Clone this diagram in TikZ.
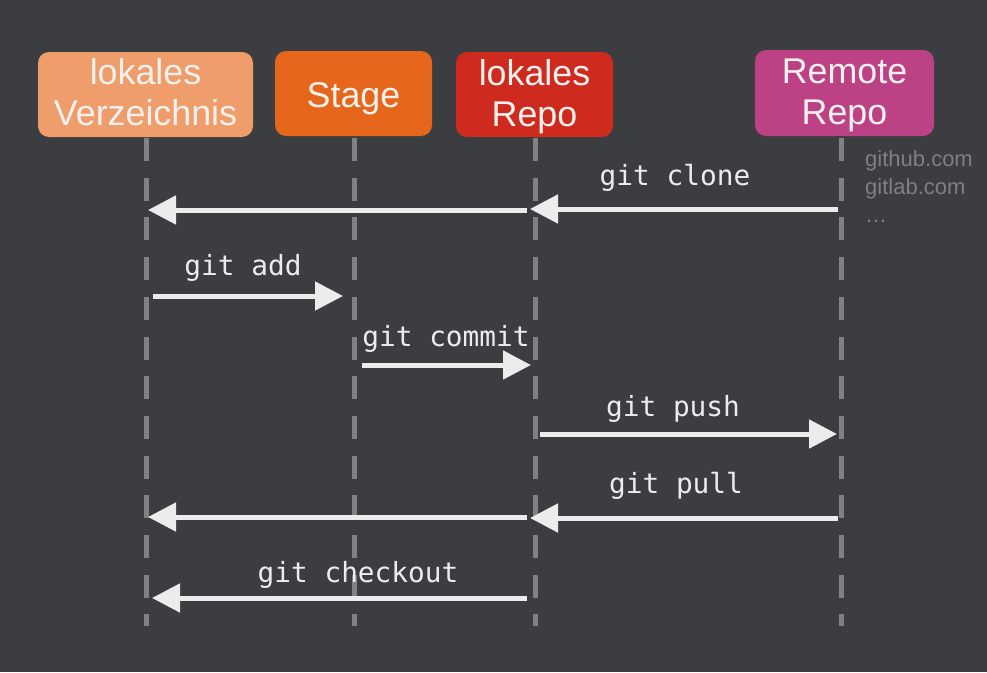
\documentclass[tikz,border=0pt]{standalone}
\usepackage{fontspec}
\setmainfont{Liberation Sans}
\newfontfamily\monofont{DejaVu Sans Mono}
\usetikzlibrary{arrows.meta}
\definecolor{bg}{HTML}{3C3D41}
\definecolor{lifeln}{HTML}{808183}
\definecolor{arr}{HTML}{ECECEC}
\definecolor{boxtxt}{HTML}{F3F1EE}
\definecolor{cA}{HTML}{EE9D6B}
\definecolor{cB}{HTML}{E6661B}
\definecolor{cC}{HTML}{CE2A1E}
\definecolor{cD}{HTML}{BD4285}
\definecolor{sidetxt}{HTML}{7F8084}
\newcommand\twolines[3]{\rule{0pt}{#3}#1\\#2\rule[-10pt]{0pt}{10pt}}
\tikzset{
  actor/.style={rounded corners=11pt, minimum height=85pt, inner sep=0pt,
    text=boxtxt, align=center, font=\fontsize{35.8}{41}\selectfont},
  lifeline/.style={draw=lifeln, line width=5pt, dash pattern=on 23pt off 16.7pt},
  msg/.style={draw=arr, line width=5pt, -{Triangle[length=28pt,width=28pt]}},
  msglabel/.style={text=arr, anchor=base, inner sep=0pt, font=\monofont\fontsize{27.8}{30}\selectfont},
  side/.style={text=sidetxt, anchor=base west, inner sep=0pt, font=\fontsize{22}{26}\selectfont}
}
\begin{document}
\begin{tikzpicture}[x=1pt,y=-1pt]
\fill[bg] (0,0) rectangle (987,672);
\useasboundingbox (0,0) rectangle (987,672);

% lifelines (drawn first, under boxes)
\coordinate (Atop) at (146,138); \coordinate (Abot) at (146,626);
\coordinate (Btop) at (354,138); \coordinate (Bbot) at (354,626);
\coordinate (Ctop) at (535,138); \coordinate (Cbot) at (535,626);
\coordinate (Dtop) at (841,138); \coordinate (Dbot) at (841,626);
\draw[lifeline] (Atop) -- (Abot);
\draw[lifeline] (Btop) -- (Bbot);
\draw[lifeline] (Ctop) -- (Cbot);
\draw[lifeline] (Dtop) -- (Dbot);

% actor boxes
\node[actor, fill=cA, minimum width=215pt] (A) at (145.5,94.5) {\twolines{lokales}{Verzeichnis}{30pt}};
\node[actor, fill=cB, minimum width=157pt] (B) at (353.5,93.5) {\rule{0pt}{35pt}Stage};
\node[actor, fill=cC, minimum width=157pt] (C) at (534.5,94.5) {\twolines{lokales}{Repo}{32pt}};
\node[actor, fill=cD, minimum width=179pt, minimum height=86pt] (D) at (844.5,93) {\twolines{Remote}{Repo}{31pt}};

% side text
\node[side] (s1) at (865,166) {github.com};
\node[side] (s2) at (865,194) {gitlab.com};
\node[side] (s3) at (865,222) {\dots};

% message end points
\coordinate (c1s) at (838,209); \coordinate (c1e) at (530,209);
\coordinate (c2s) at (527,210); \coordinate (c2e) at (148,210);
\coordinate (a1s) at (153,296); \coordinate (a1e) at (343,296);
\coordinate (m1s) at (362,365); \coordinate (m1e) at (531,365);
\coordinate (p1s) at (540,434); \coordinate (p1e) at (837,434);
\coordinate (l1s) at (838,518); \coordinate (l1e) at (530,518);
\coordinate (l2s) at (527,517); \coordinate (l2e) at (148,517);
\coordinate (k1s) at (527,598); \coordinate (k1e) at (152,598);

\draw[msg] (c1s) -- (c1e);
\draw[msg] (c2s) -- (c2e);
\draw[msg] (a1s) -- (a1e);
\draw[msg] (m1s) -- (m1e);
\draw[msg] (p1s) -- (p1e);
\draw[msg] (l1s) -- (l1e);
\draw[msg] (l2s) -- (l2e);
\draw[msg] (k1s) -- (k1e);

% labels
\node[msglabel] (tclone) at (675,185) {git clone};
\node[msglabel] (tadd) at (243,275) {git add};
\node[msglabel] (tcommit) at (446,346) {git commit};
\node[msglabel] (tpush) at (673,416) {git push};
\node[msglabel] (tpull) at (676,493) {git pull};
\node[msglabel] (tcheckout) at (358,582) {git checkout};
\end{tikzpicture}
\end{document}
